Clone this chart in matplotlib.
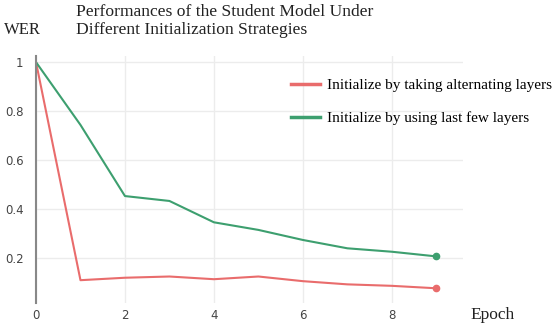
import numpy as np
import matplotlib.pyplot as plt

# data
epochs = [0, 1, 2, 3, 4, 5, 6, 7, 8, 9]
wer_alternating = [1.0, 0.111, 0.121, 0.126, 0.115, 0.126, 0.107, 0.094, 0.088, 0.078]
wer_last_few = [1.0, 0.744, 0.454, 0.434, 0.347, 0.316, 0.275, 0.241, 0.227, 0.208]
labels = ["Initialize by taking alternating layers", "Initialize by using last few layers"]
colors = ["#e96c6c", "#3d9f6f"]
x_ticks = [0, 2, 4, 6, 8]
y_ticks = [0.2, 0.4, 0.6, 0.8, 1.0]
y_ticklabels = ["0.2", "0.4", "0.6", "0.8", "1"]

serif = "Liberation Serif"

fig = plt.figure(figsize=(5.56, 3.24), dpi=100)
ax = fig.add_axes([36 / 556, 1 - 303 / 324, (463 - 36) / 556, (303 - 56) / 324])

for serie, lab, col in zip([wer_alternating, wer_last_few], labels, colors):
    ax.plot(epochs, serie, color=col, lw=1.5, label=lab)
    ax.plot(epochs[-1], serie[-1], "o", color=col, ms=4.5)

ax.set_xlim(0, 9.6)
ax.set_ylim(0.018, 1.025)
ax.set_xticks(x_ticks)
ax.set_yticks(y_ticks)
ax.set_yticklabels(y_ticklabels)
ax.tick_params(length=0, labelsize=8.5, colors="#444444")
ax.tick_params(axis="y", pad=9)
ax.tick_params(axis="x", pad=4)
ax.grid(True, color="#ececec", lw=1)
ax.set_axisbelow(True)
for s in ["top", "right", "bottom"]:
    ax.spines[s].set_visible(False)
ax.spines["left"].set_color("#888888")
ax.spines["left"].set_linewidth(1.5)

fig.text(76 / 556, 1 - 12 / 324, "Performances of the Student Model Under",
         family=serif, fontsize=12.6, va="center", ha="left", color="#222222")
fig.text(76 / 556, 1 - 30 / 324, "Different Initialization Strategies",
         family=serif, fontsize=12.6, va="center", ha="left", color="#222222")
fig.text(4 / 556, 1 - 30 / 324, "WER", family=serif, fontsize=12, va="center", color="#222222")
fig.text(470 / 556, 1 - 315 / 324, "Epoch", family=serif, fontsize=12.5, va="center", color="#222222")

leg = fig.legend(loc="upper left", bbox_to_anchor=(283 / 556, 1 - 71 / 324), frameon=False,
                 prop={"family": serif, "size": 11}, handlelength=1.9, handletextpad=0.45,
                 labelspacing=1.25, borderpad=0)
for h in leg.get_lines():
    h.set_linewidth(2.5)

fig.savefig("out.png", dpi=100)
